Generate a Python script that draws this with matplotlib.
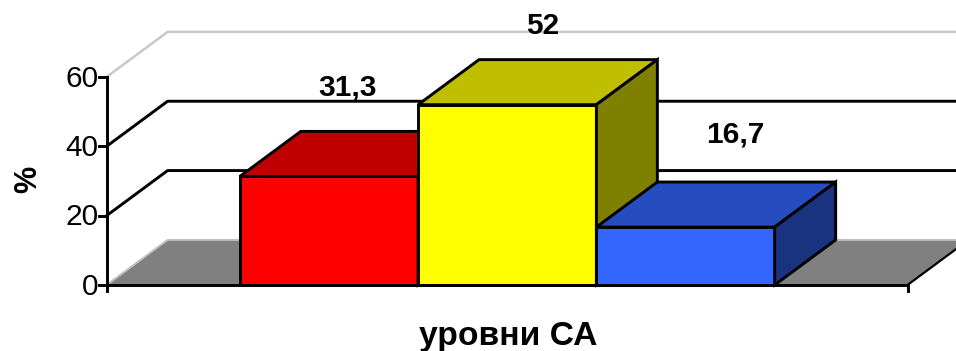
import matplotlib
matplotlib.use("Agg")
import matplotlib.pyplot as plt
from matplotlib.patches import Polygon

plt.rcParams['font.family'] = ['Liberation Sans', 'DejaVu Sans']

values = [31.3, 52, 16.7]
value_labels = ['31,3', '52', '16,7']
front_colors = ['#FF0000', '#FFFF00', '#3366FF']
top_colors = ['#BF0000', '#BFBF00', '#264DBF']
side_colors = ['#800000', '#808000', '#1A3380']
y_ticks = [0, 20, 40, 60]

# depth of the fake 3d box, in data units
DX = 0.342
DY = 13.0
BAR = 0.5
LEFT = -1.247
RIGHT = 3.245
EDGE = 2.1

fig = plt.figure(figsize=(9.56, 3.51), dpi=100, facecolor='white')
ax = fig.add_axes([0, 0, 1, 1], frameon=False)
ax.set_xlim(-1.845, 3.517)
ax.set_ylim(-19.04, 82.2)
ax.set_xticks([])
ax.set_yticks([])

# back wall lines
for t in y_ticks[1:]:
    if t == 60:
        c, lw = '#C8C8C8', 1.8
    else:
        c, lw = 'black', EDGE
    ax.plot([LEFT, LEFT + DX, RIGHT + 2 * DX], [t, t + DY, t + DY], color=c, lw=lw, zorder=1)

# floor
ax.add_patch(Polygon([(LEFT, 0), (LEFT + DX, DY), (RIGHT + DX, DY), (RIGHT, 0)],
                     closed=True, fc='#808080', ec='none', zorder=2))
ax.plot([LEFT, LEFT + DX, RIGHT + 2 * DX], [0, DY, DY], color='#C0C0C0', lw=1.4, zorder=2)
ax.plot([RIGHT, RIGHT + DX], [0, DY], color='black', lw=1.6, zorder=2)

# bars, left to right so each one overlaps the previous
for i, v in enumerate(values):
    l, r = i - BAR, i + BAR
    z = 3 + i
    ax.add_patch(Polygon([(l, 0), (r, 0), (r, v), (l, v)], closed=True,
                         fc=front_colors[i], ec='black', lw=EDGE, joinstyle='miter', zorder=z))
    ax.add_patch(Polygon([(l, v), (r, v), (r + DX, v + DY), (l + DX, v + DY)], closed=True,
                         fc=top_colors[i], ec='black', lw=EDGE, joinstyle='miter', zorder=z))
    ax.add_patch(Polygon([(r, 0), (r + DX, DY), (r + DX, v + DY), (r, v)], closed=True,
                         fc=side_colors[i], ec='black', lw=EDGE, joinstyle='miter', zorder=z))

# axes
ax.plot([LEFT, LEFT], [0, 60], color='black', lw=EDGE, zorder=8)
ax.plot([LEFT, RIGHT], [0, 0], color='black', lw=EDGE, zorder=8)
ax.plot([RIGHT, RIGHT], [0, -1.8], color='black', lw=EDGE, zorder=8)
ax.plot([LEFT, LEFT], [0, -1.8], color='black', lw=EDGE, zorder=8)
for t in y_ticks:
    ax.plot([LEFT - 0.04, LEFT], [t, t], color='black', lw=EDGE, zorder=8)
    ax.text(LEFT - 0.045, t - 0.5, str(t), ha='right', va='center', fontsize=21.5, color='black')

# value labels sit a little behind the front face of each bar
label_shift = [(0.107, 25.8), (0.197, 22.7), (0.28, 26.6)]
for i, v in enumerate(values):
    ax.text(i + label_shift[i][0], v + label_shift[i][1], value_labels[i], ha='center', va='center',
            fontsize=21.5, fontweight='bold', color='black', zorder=9)

ax.text(1.004, -14.9, 'уровни СА', ha='center', va='center', fontsize=24.2, fontweight='bold')
ax.text(-1.684, 30.5, '%', ha='center', va='center', rotation=90, fontsize=22, fontweight='bold')

fig.savefig('out.png', dpi=100)
